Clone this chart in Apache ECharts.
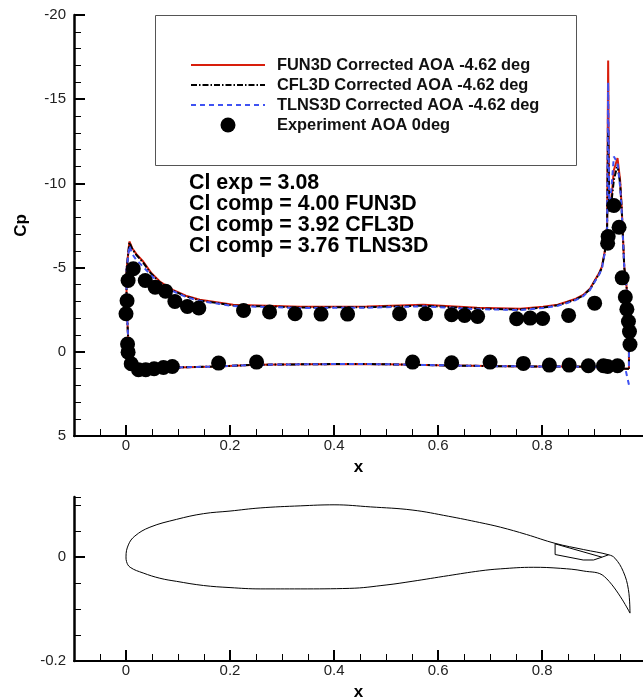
<!DOCTYPE html>
<html>
<head>
<meta charset="utf-8">
<style>
  html, body { margin: 0; padding: 0; background: #fff; }
  #chart { width: 643px; height: 700px; }
</style>
<script src="https://cdn.jsdelivr.net/npm/echarts@6/dist/echarts.min.js"></script>
</head>
<body>
<div id="chart"></div>
<script>
// surface stations, trailing edge -> lower surface -> leading edge -> upper surface -> spike
const surfaceX = [0.967, 0.96, 0.9, 0.85, 0.77, 0.7, 0.6, 0.5, 0.44, 0.35, 0.25, 0.175, 0.1, 0.05, 0.03, 0.011, 0.004, 0.001, 0.001, 0.0065, 0.012, 0.02, 0.033, 0.048, 0.065, 0.09, 0.115, 0.142, 0.206, 0.27, 0.335, 0.463, 0.572, 0.675, 0.758, 0.802, 0.83, 0.848, 0.865, 0.879, 0.892, 0.902, 0.91, 0.915, 0.921, 0.925, 0.927, 0.929, 0.933, 0.938, 0.945, 0.95, 0.953, 0.958, 0.963, 0.967, 0.967]
const fun3dCp = [1, 1, 0.9, 0.87, 0.87, 0.85, 0.8, 0.74, 0.72, 0.74, 0.77, 0.87, 0.93, 0.97, 0.95, 0.65, -0.9, -2.9, -4.87, -6.55, -6.15, -5.8, -5.36, -4.7, -4.17, -3.68, -3.33, -3.09, -2.79, -2.73, -2.67, -2.69, -2.79, -2.61, -2.55, -2.67, -2.8, -2.97, -3.15, -3.38, -3.75, -4.28, -4.7, -5.05, -6.06, -7.5, -17.3, -8.5, -9, -10.8, -11.5, -10.2, -8.6, -5.05, -3.7, 0, 1]
const cfl3dCp = [1, 1, 0.9, 0.87, 0.87, 0.85, 0.8, 0.74, 0.72, 0.74, 0.77, 0.87, 0.93, 0.97, 0.95, 0.65, -0.9, -2.9, -4.87, -6.5, -6.1, -5.75, -5.3, -4.65, -4.12, -3.64, -3.29, -3.05, -2.75, -2.69, -2.63, -2.65, -2.74, -2.57, -2.51, -2.63, -2.76, -2.93, -3.11, -3.34, -3.71, -4.24, -4.65, -5, -6, -7.4, -13.2, -8.3, -8.8, -10.2, -11.1, -10, -8.5, -5, -3.65, 0, 1]
const tlns3dCp = [1.96, 1, 0.9, 0.87, 0.87, 0.85, 0.8, 0.74, 0.72, 0.74, 0.77, 0.87, 0.93, 0.97, 0.95, 0.65, -0.9, -2.9, -4.87, -6.3, -5.8, -5.45, -5.05, -4.55, -4.05, -3.6, -3.26, -3.02, -2.72, -2.66, -2.6, -2.62, -2.7, -2.53, -2.48, -2.6, -2.73, -2.9, -3.08, -3.3, -3.67, -4.2, -4.6, -4.95, -5.95, -7.3, -16, -8.6, -9.6, -11.6, -11.2, -9.8, -8.4, -5, -3.65, 0, 1]

const expX = [0, 0.002, 0.004, 0.014, 0.037, 0.056, 0.076, 0.094, 0.118, 0.14, 0.226, 0.276, 0.325, 0.375, 0.426, 0.526, 0.576, 0.626, 0.651, 0.676, 0.751, 0.777, 0.801, 0.851, 0.901, 0.926, 0.927, 0.938, 0.948, 0.954, 0.96, 0.963, 0.966, 0.968, 0.969, 0.945, 0.926, 0.918, 0.889, 0.852, 0.814, 0.764, 0.7, 0.626, 0.551, 0.251, 0.178, 0.089, 0.072, 0.054, 0.038, 0.024, 0.01, 0.004, 0.003]
const expCp = [-2.26, -3.03, -4.23, -4.93, -4.23, -3.84, -3.6, -2.99, -2.69, -2.6, -2.45, -2.36, -2.26, -2.24, -2.24, -2.26, -2.26, -2.2, -2.16, -2.1, -1.96, -2, -1.98, -2.16, -2.89, -6.45, -6.85, -8.69, -7.4, -4.39, -3.25, -2.53, -1.8, -1.2, -0.43, 0.83, 0.87, 0.83, 0.83, 0.79, 0.79, 0.69, 0.61, 0.65, 0.61, 0.61, 0.67, 0.87, 0.93, 1.01, 1.07, 1.07, 0.71, 0.02, -0.46]

const airfoilX = [0.969, 0.966, 0.956, 0.94, 0.928, 0.88, 0.825, 0.77, 0.72, 0.68, 0.62, 0.55, 0.47, 0.4, 0.335, 0.258, 0.2, 0.149, 0.097, 0.046, 0.017, 0.0045, 0, 0.001, 0.008, 0.033, 0.065, 0.097, 0.149, 0.2, 0.258, 0.335, 0.43, 0.5, 0.55, 0.62, 0.68, 0.72, 0.783, 0.835, 0.879, 0.92, 0.969]
const airfoilY = [-0.108, -0.063, -0.028, -0.0025, 0.004, 0.014, 0.026, 0.043, 0.057, 0.066, 0.078, 0.09, 0.096, 0.1, 0.098, 0.094, 0.088, 0.083, 0.072, 0.057, 0.04, 0.023, 0, -0.009, -0.02, -0.031, -0.041, -0.047, -0.055, -0.059, -0.0615, -0.0615, -0.0605, -0.054, -0.047, -0.036, -0.027, -0.023, -0.02, -0.022, -0.027, -0.038, -0.108]
const coveX = [0.915, 0.825, 0.825, 0.879, 0.899, 0.915, 0.928]
const coveY = [-0.0006, 0.025, 0.0045, -0.006, -0.006, -0.0006, 0.004]

const xMajorTicks = [0, 0.2, 0.4, 0.6, 0.8]
const yMajorTicks2 = [-0.2, 0]
const statsLines = ['Cl exp = 3.08', 'Cl comp = 4.00 FUN3D', 'Cl comp = 3.92 CFL3D', 'Cl comp = 3.76 TLNS3D']

const FONT = '"Liberation Sans", Arial, sans-serif'
const zip = (a, b) => a.map((v, i) => [v, b[i]])

const majorX = (gridIndex, nameText) => ({
  type: 'value',
  gridIndex,
  min: -0.1,
  max: 0.994,
  position: 'bottom',
  name: nameText,
  nameLocation: 'middle',
  nameGap: 23,
  nameTextStyle: { fontFamily: FONT, fontSize: 17, fontWeight: 'bold', color: '#000' },
  axisLine: { onZero: false, lineStyle: { color: '#000', width: 2 } },
  axisTick: { inside: true, length: 11, lineStyle: { color: '#000', width: 2 }, customValues: xMajorTicks },
  axisLabel: { customValues: xMajorTicks, margin: 2, fontFamily: FONT, fontSize: 15, color: '#222', formatter: v => String(v) },
  splitLine: { show: false }
})

const minorX = gridIndex => ({
  type: 'value',
  gridIndex,
  min: -0.1,
  max: 0.994,
  interval: 0.05,
  position: 'bottom',
  axisLine: { show: false, onZero: false },
  axisTick: { inside: true, length: 7, lineStyle: { color: '#000', width: 1 } },
  axisLabel: { show: false },
  splitLine: { show: false }
})

const legendNames = ['FUN3D Corrected AOA -4.62 deg', 'CFL3D Corrected AOA -4.62 deg', 'TLNS3D Corrected AOA -4.62 deg', 'Experiment AOA 0deg']

const option = {
  animation: false,
  backgroundColor: '#fff',
  grid: [
    { left: 74, right: 0, top: 15, height: 421, outerBoundsMode: 'none' },
    { left: 74, right: 0, top: 497, height: 164, outerBoundsMode: 'none' }
  ],
  xAxis: [majorX(0, 'x'), minorX(0), majorX(1, 'x'), minorX(1)],
  yAxis: [
    {
      type: 'value',
      gridIndex: 0,
      inverse: true,
      min: -20,
      max: 5,
      interval: 5,
      name: 'Cp',
      nameLocation: 'middle',
      nameGap: 44,
      nameTextStyle: { fontFamily: FONT, fontSize: 17, fontWeight: 'bold', color: '#000' },
      axisLine: { onZero: false, lineStyle: { color: '#000', width: 2.5 } },
      axisTick: { inside: true, length: 11, lineStyle: { color: '#000', width: 2 } },
      minorTick: { show: true, splitNumber: 5, length: 7, lineStyle: { color: '#000', width: 1 } },
      axisLabel: { margin: 8, fontFamily: FONT, fontSize: 15, color: '#222' },
      splitLine: { show: false },
      minorSplitLine: { show: false }
    },
    {
      type: 'value',
      gridIndex: 1,
      position: 'left',
      min: -0.2,
      max: 0.115,
      axisLine: { onZero: false, lineStyle: { color: '#000', width: 2.5 } },
      axisTick: { inside: true, length: 11, lineStyle: { color: '#000', width: 2 }, customValues: yMajorTicks2 },
      axisLabel: { customValues: yMajorTicks2, margin: 8, fontFamily: FONT, fontSize: 15, color: '#222' },
      splitLine: { show: false }
    },
    {
      type: 'value',
      gridIndex: 1,
      position: 'left',
      min: -0.2,
      max: 0.115,
      interval: 0.05,
      axisLine: { show: false, onZero: false },
      axisTick: { inside: true, length: 7, lineStyle: { color: '#000', width: 1 } },
      axisLabel: { show: false },
      splitLine: { show: false }
    }
  ],
  legend: {
    left: 190,
    top: 57,
    padding: 0,
    orient: 'vertical',
    itemWidth: 74,
    itemHeight: 15,
    itemGap: 4,
    align: 'left',
    textStyle: { fontFamily: FONT, fontSize: 16.4, fontWeight: 'bold', color: '#111', padding: [0, 0, 0, 7] },
    data: legendNames.map((name, i) => (i < 3 ? { name, itemStyle: { opacity: 0 } } : { name }))
  },
  graphic: [
    { type: 'rect', z: 1, shape: { x: 155.5, y: 15.5, width: 421, height: 150 }, style: { fill: '#fff', stroke: '#555', lineWidth: 1 } },
    ...statsLines.map((t, i) => ({
      type: 'text',
      z: 5,
      left: 189,
      top: 172.5 + i * 21,
      style: { text: t, fontFamily: FONT, fontSize: 21.4, fontWeight: 'bold', fill: '#000' }
    }))
  ],
  series: [
    {
      name: legendNames[0], type: 'line', xAxisIndex: 0, yAxisIndex: 0, showSymbol: false, symbol: 'none', z: 3,
      lineStyle: { color: '#d81e0c', width: 2 }, itemStyle: { color: '#d81e0c' }, data: zip(surfaceX, fun3dCp)
    },
    {
      name: legendNames[1], type: 'line', xAxisIndex: 0, yAxisIndex: 0, showSymbol: false, symbol: 'none', z: 3,
      lineStyle: { color: '#000', width: 2, type: [6, 2, 1.5, 2] }, itemStyle: { color: '#000' }, data: zip(surfaceX, cfl3dCp)
    },
    {
      name: legendNames[2], type: 'line', xAxisIndex: 0, yAxisIndex: 0, showSymbol: false, symbol: 'none', z: 3,
      lineStyle: { color: '#3f52f2', width: 2, type: [5, 4] }, itemStyle: { color: '#3f52f2' }, data: zip(surfaceX, tlns3dCp)
    },
    {
      name: legendNames[3], type: 'scatter', xAxisIndex: 0, yAxisIndex: 0, symbol: 'circle', symbolSize: 15, z: 4,
      itemStyle: { color: '#000', opacity: 1 }, data: zip(expX, expCp)
    },
    {
      name: 'airfoil', type: 'line', xAxisIndex: 2, yAxisIndex: 1, showSymbol: false, symbol: 'none', smooth: 0.4,
      lineStyle: { color: '#000', width: 1 }, data: zip(airfoilX, airfoilY)
    },
    {
      name: 'cove', type: 'line', xAxisIndex: 2, yAxisIndex: 1, showSymbol: false, symbol: 'none',
      lineStyle: { color: '#000', width: 1 }, data: zip(coveX, coveY)
    }
  ]
}

const chart = echarts.init(document.getElementById('chart'), null, { renderer: 'canvas' })
chart.setOption(option)
</script>
</body>
</html>
